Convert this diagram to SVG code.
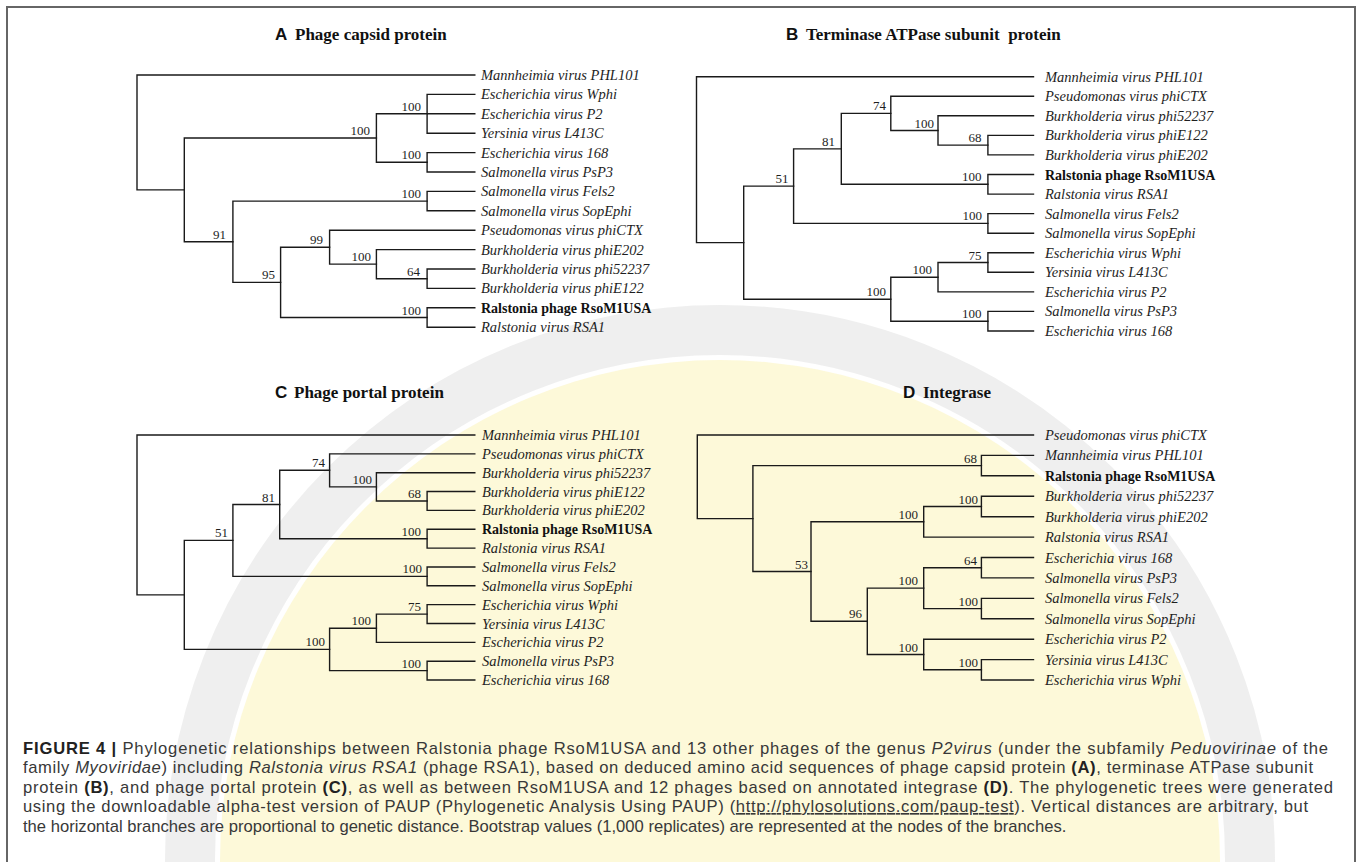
<svg xmlns="http://www.w3.org/2000/svg" width="1357" height="862" viewBox="0 0 1357 862">
<style>
.br{stroke:#1a1a1a;stroke-width:1.4;fill:none;stroke-linecap:square}
.lf{font-family:"Liberation Serif",serif;font-style:italic;font-size:14.5px;fill:#1e1e1e}
.lb{font-family:"Liberation Serif",serif;font-weight:bold;font-size:14px;fill:#111}
.bs{font-family:"Liberation Serif",serif;font-size:13px;text-anchor:end;fill:#1e1e1e}
.tl{font-family:"Liberation Sans",sans-serif;font-weight:bold;font-size:17px;fill:#111}
.tt{font-family:"Liberation Serif",serif;font-weight:bold;font-size:17px;fill:#111}
.cap{font-family:"Liberation Sans",sans-serif;font-size:16.6px;fill:#383838}
.b{font-weight:bold;fill:#222}
.i{font-style:italic}
</style>
<rect width="1357" height="862" fill="#ffffff"/>
<g id="watermark">
<circle cx="720" cy="860" r="500" fill="#fcf4b4" opacity="0.5"/>
<circle cx="720" cy="860" r="530" fill="none" stroke="#d6d6d6" stroke-width="50" opacity="0.4"/>
</g>
<path id="frame" d="M7,870 V7 H1355 V870" fill="none" stroke="#666" stroke-width="2"/>

<!-- Titles -->
<g id="title-A"><text x="275" y="40" class="tl">A</text><text x="295" y="40" class="tt">Phage capsid protein</text></g>
<g id="title-B"><text x="786" y="40" class="tl">B</text><text x="806" y="40" class="tt" xml:space="preserve">Terminase ATPase subunit  protein</text></g>
<g id="title-C"><text x="275" y="398" class="tl">C</text><text x="294" y="398" class="tt">Phage portal protein</text></g>
<g id="title-D"><text x="903" y="398" class="tl">D</text><text x="923" y="398" class="tt">Integrase</text></g>

<!-- Connectors -->
<g id="connectors" class="br">
<g id="conn-A">
<path d="M137,75 V189.9 M137,75 H474.8 M137,189.9 H184.3"/>
<path d="M184.3,138.05 V241.7 M184.3,138.05 H376.4 M184.3,241.7 H232.9"/>
<path d="M376.4,113.8 V162.3 M376.4,113.8 H427.1 M376.4,162.3 H427.1"/>
<path d="M427.1,94.4 V133.2 M427.1,94.4 H474.8 M427.1,113.8 H474.8 M427.1,133.2 H474.8"/>
<path d="M427.1,152.6 V172 M427.1,152.6 H474.8 M427.1,172 H474.8"/>
<path d="M232.9,201.1 V282.35 M232.9,201.1 H427.1 M232.9,282.35 H280.6"/>
<path d="M427.1,191.4 V210.8 M427.1,191.4 H474.8 M427.1,210.8 H474.8"/>
<path d="M280.6,247.2 V317.5 M280.6,247.2 H329.6 M280.6,317.5 H427.1"/>
<path d="M329.6,230.2 V264.15 M329.6,230.2 H474.8 M329.6,264.15 H376.4"/>
<path d="M376.4,249.6 V278.7 M376.4,249.6 H474.8 M376.4,278.7 H427.1"/>
<path d="M427.1,269 V288.4 M427.1,269 H474.8 M427.1,288.4 H474.8"/>
<path d="M427.1,307.8 V327.2 M427.1,307.8 H474.8 M427.1,327.2 H474.8"/>
</g>
<g id="conn-B">
<path d="M696.5,76.7 V242.65 M696.5,76.7 H1033.5 M696.5,242.65 H743.7"/>
<path d="M743.7,186.1 V299.2 M743.7,186.1 H793.6 M743.7,299.2 H890.8"/>
<path d="M793.6,148.85 V223.4 M793.6,148.85 H841.3 M793.6,223.4 H987.9"/>
<path d="M841.3,113.4 V184.3 M841.3,113.4 H890.8 M841.3,184.3 H987.9"/>
<path d="M890.8,96.3 V130.5 M890.8,96.3 H1033.5 M890.8,130.5 H938"/>
<path d="M938,115.8 V145.15 M938,115.8 H1033.5 M938,145.15 H987.9"/>
<path d="M987.9,135.4 V154.9 M987.9,135.4 H1033.5 M987.9,154.9 H1033.5"/>
<path d="M987.9,174.5 V194.1 M987.9,174.5 H1033.5 M987.9,194.1 H1033.5"/>
<path d="M987.9,213.6 V233.2 M987.9,213.6 H1033.5 M987.9,233.2 H1033.5"/>
<path d="M890.8,277.2 V321.2 M890.8,277.2 H938 M890.8,321.2 H987.9"/>
<path d="M938,262.5 V291.9 M938,262.5 H987.9 M938,291.9 H1033.5"/>
<path d="M987.9,252.7 V272.3 M987.9,252.7 H1033.5 M987.9,272.3 H1033.5"/>
<path d="M987.9,311.4 V331 M987.9,311.4 H1033.5 M987.9,331 H1033.5"/>
</g>
<g id="conn-C">
<path d="M137,435 V594.9 M137,435 H474.8 M137,594.9 H184.3"/>
<path d="M184.3,540.42 V649.4 M184.3,540.42 H232.9 M184.3,649.4 H329.6"/>
<path d="M232.9,504.47 V576.38 M232.9,504.47 H279.7 M232.9,576.38 H427.1"/>
<path d="M279.7,470.27 V538.68 M279.7,470.27 H329.6 M279.7,538.68 H427.1"/>
<path d="M329.6,453.85 V486.84 M329.6,453.85 H474.8 M329.6,486.84 H376.4"/>
<path d="M376.4,472.7 V500.98 M376.4,472.7 H474.8 M376.4,500.98 H427.1"/>
<path d="M427.1,491.55 V510.4 M427.1,491.55 H474.8 M427.1,510.4 H474.8"/>
<path d="M427.1,529.25 V548.1 M427.1,529.25 H474.8 M427.1,548.1 H474.8"/>
<path d="M427.1,566.95 V585.8 M427.1,566.95 H474.8 M427.1,585.8 H474.8"/>
<path d="M329.6,628.2 V670.6 M329.6,628.2 H376.4 M329.6,670.6 H427.1"/>
<path d="M376.4,614.08 V642.35 M376.4,614.08 H427.1 M376.4,642.35 H474.8"/>
<path d="M427.1,604.65 V623.5 M427.1,604.65 H474.8 M427.1,623.5 H474.8"/>
<path d="M427.1,661.2 V680.05 M427.1,661.2 H474.8 M427.1,680.05 H474.8"/>
</g>
<g id="conn-D">
<path d="M697.3,435 V518.6 M697.3,435 H1033.5 M697.3,518.6 H752.9"/>
<path d="M752.9,465.6 V571.55 M752.9,465.6 H981.4 M752.9,571.55 H811"/>
<path d="M981.4,455.4 V475.8 M981.4,455.4 H1033.5 M981.4,475.8 H1033.5"/>
<path d="M811,521.8 V621.3 M811,521.8 H923.7 M811,621.3 H867.3"/>
<path d="M923.7,506.5 V537.1 M923.7,506.5 H981.4 M923.7,537.1 H1033.5"/>
<path d="M981.4,496.3 V516.7 M981.4,496.3 H1033.5 M981.4,516.7 H1033.5"/>
<path d="M867.3,588.15 V654.5 M867.3,588.15 H923.7 M867.3,654.5 H923.7"/>
<path d="M923.7,567.7 V608.6 M923.7,567.7 H981.4 M923.7,608.6 H981.4"/>
<path d="M981.4,557.5 V577.9 M981.4,557.5 H1033.5 M981.4,577.9 H1033.5"/>
<path d="M981.4,598.4 V618.8 M981.4,598.4 H1033.5 M981.4,618.8 H1033.5"/>
<path d="M923.7,639.2 V669.8 M923.7,639.2 H1033.5 M923.7,669.8 H981.4"/>
<path d="M981.4,659.6 V680 M981.4,659.6 H1033.5 M981.4,680 H1033.5"/>
</g>
</g>

<!-- Panel A leaves -->
<g id="A-leaf-01"><text x="481" y="80" class="lf">Mannheimia virus PHL101</text></g>
<g id="A-leaf-02"><text x="481" y="99.4" class="lf">Escherichia virus Wphi</text></g>
<g id="A-leaf-03"><text x="481" y="118.8" class="lf">Escherichia virus P2</text></g>
<g id="A-leaf-04"><text x="481" y="138.2" class="lf">Yersinia virus L413C</text></g>
<g id="A-leaf-05"><text x="481" y="157.6" class="lf">Escherichia virus 168</text></g>
<g id="A-leaf-06"><text x="481" y="177" class="lf">Salmonella virus PsP3</text></g>
<g id="A-leaf-07"><text x="481" y="196.4" class="lf">Salmonella virus Fels2</text></g>
<g id="A-leaf-08"><text x="481" y="215.8" class="lf">Salmonella virus SopEphi</text></g>
<g id="A-leaf-09"><text x="481" y="235.2" class="lf">Pseudomonas virus phiCTX</text></g>
<g id="A-leaf-10"><text x="481" y="254.6" class="lf">Burkholderia virus phiE202</text></g>
<g id="A-leaf-11"><text x="481" y="274" class="lf">Burkholderia virus phi52237</text></g>
<g id="A-leaf-12"><text x="481" y="293.4" class="lf">Burkholderia virus phiE122</text></g>
<g id="A-leaf-13"><text x="481" y="312.8" class="lb">Ralstonia phage RsoM1USA</text></g>
<g id="A-leaf-14"><text x="481" y="332.2" class="lf">Ralstonia virus RSA1</text></g>
<!-- Panel A bootstrap -->
<g id="A-node-1"><text x="421" y="110.8" class="bs">100</text></g>
<g id="A-node-2"><text x="370" y="135" class="bs">100</text></g>
<g id="A-node-3"><text x="421" y="159.3" class="bs">100</text></g>
<g id="A-node-4"><text x="421" y="198.1" class="bs">100</text></g>
<g id="A-node-5"><text x="226" y="238.7" class="bs">91</text></g>
<g id="A-node-6"><text x="323" y="244.2" class="bs">99</text></g>
<g id="A-node-7"><text x="371" y="261.2" class="bs">100</text></g>
<g id="A-node-8"><text x="420" y="275.7" class="bs">64</text></g>
<g id="A-node-9"><text x="275" y="279.4" class="bs">95</text></g>
<g id="A-node-10"><text x="421" y="314.5" class="bs">100</text></g>

<!-- Panel B leaves -->
<g id="B-leaf-01"><text x="1045" y="81.7" class="lf">Mannheimia virus PHL101</text></g>
<g id="B-leaf-02"><text x="1045" y="101.3" class="lf">Pseudomonas virus phiCTX</text></g>
<g id="B-leaf-03"><text x="1045" y="120.8" class="lf">Burkholderia virus phi52237</text></g>
<g id="B-leaf-04"><text x="1045" y="140.4" class="lf">Burkholderia virus phiE122</text></g>
<g id="B-leaf-05"><text x="1045" y="159.9" class="lf">Burkholderia virus phiE202</text></g>
<g id="B-leaf-06"><text x="1045" y="179.5" class="lb">Ralstonia phage RsoM1USA</text></g>
<g id="B-leaf-07"><text x="1045" y="199.1" class="lf">Ralstonia virus RSA1</text></g>
<g id="B-leaf-08"><text x="1045" y="218.6" class="lf">Salmonella virus Fels2</text></g>
<g id="B-leaf-09"><text x="1045" y="238.2" class="lf">Salmonella virus SopEphi</text></g>
<g id="B-leaf-10"><text x="1045" y="257.7" class="lf">Escherichia virus Wphi</text></g>
<g id="B-leaf-11"><text x="1045" y="277.3" class="lf">Yersinia virus L413C</text></g>
<g id="B-leaf-12"><text x="1045" y="296.9" class="lf">Escherichia virus P2</text></g>
<g id="B-leaf-13"><text x="1045" y="316.4" class="lf">Salmonella virus PsP3</text></g>
<g id="B-leaf-14"><text x="1045" y="336" class="lf">Escherichia virus 168</text></g>
<!-- Panel B bootstrap -->
<g id="B-node-1"><text x="886" y="110.4" class="bs">74</text></g>
<g id="B-node-2"><text x="934" y="127.5" class="bs">100</text></g>
<g id="B-node-3"><text x="981.5" y="142.2" class="bs">68</text></g>
<g id="B-node-4"><text x="835" y="145.9" class="bs">81</text></g>
<g id="B-node-5"><text x="981.5" y="181.3" class="bs">100</text></g>
<g id="B-node-6"><text x="788.5" y="183.1" class="bs">51</text></g>
<g id="B-node-7"><text x="982" y="220.4" class="bs">100</text></g>
<g id="B-node-8"><text x="981.5" y="259.5" class="bs">75</text></g>
<g id="B-node-9"><text x="932" y="274.2" class="bs">100</text></g>
<g id="B-node-10"><text x="886" y="296.2" class="bs">100</text></g>
<g id="B-node-11"><text x="981.5" y="318.2" class="bs">100</text></g>

<!-- Panel C leaves -->
<g id="C-leaf-01"><text x="482" y="440" class="lf">Mannheimia virus PHL101</text></g>
<g id="C-leaf-02"><text x="482" y="458.9" class="lf">Pseudomonas virus phiCTX</text></g>
<g id="C-leaf-03"><text x="482" y="477.7" class="lf">Burkholderia virus phi52237</text></g>
<g id="C-leaf-04"><text x="482" y="496.6" class="lf">Burkholderia virus phiE122</text></g>
<g id="C-leaf-05"><text x="482" y="515.4" class="lf">Burkholderia virus phiE202</text></g>
<g id="C-leaf-06"><text x="482" y="534.3" class="lb">Ralstonia phage RsoM1USA</text></g>
<g id="C-leaf-07"><text x="482" y="553.1" class="lf">Ralstonia virus RSA1</text></g>
<g id="C-leaf-08"><text x="482" y="572" class="lf">Salmonella virus Fels2</text></g>
<g id="C-leaf-09"><text x="482" y="590.8" class="lf">Salmonella virus SopEphi</text></g>
<g id="C-leaf-10"><text x="482" y="609.7" class="lf">Escherichia virus Wphi</text></g>
<g id="C-leaf-11"><text x="482" y="628.5" class="lf">Yersinia virus L413C</text></g>
<g id="C-leaf-12"><text x="482" y="647.4" class="lf">Escherichia virus P2</text></g>
<g id="C-leaf-13"><text x="482" y="666.2" class="lf">Salmonella virus PsP3</text></g>
<g id="C-leaf-14"><text x="482" y="685.1" class="lf">Escherichia virus 168</text></g>
<!-- Panel C bootstrap -->
<g id="C-node-1"><text x="325" y="467.3" class="bs">74</text></g>
<g id="C-node-2"><text x="372" y="483.8" class="bs">100</text></g>
<g id="C-node-3"><text x="421" y="498" class="bs">68</text></g>
<g id="C-node-4"><text x="275" y="501.5" class="bs">81</text></g>
<g id="C-node-5"><text x="421" y="535.7" class="bs">100</text></g>
<g id="C-node-6"><text x="228" y="537.4" class="bs">51</text></g>
<g id="C-node-7"><text x="422" y="573.4" class="bs">100</text></g>
<g id="C-node-8"><text x="421" y="611.1" class="bs">75</text></g>
<g id="C-node-9"><text x="371" y="625.2" class="bs">100</text></g>
<g id="C-node-10"><text x="325" y="646.4" class="bs">100</text></g>
<g id="C-node-11"><text x="421" y="667.6" class="bs">100</text></g>

<!-- Panel D leaves -->
<g id="D-leaf-01"><text x="1045" y="440" class="lf">Pseudomonas virus phiCTX</text></g>
<g id="D-leaf-02"><text x="1045" y="460.4" class="lf">Mannheimia virus PHL101</text></g>
<g id="D-leaf-03"><text x="1045" y="480.8" class="lb">Ralstonia phage RsoM1USA</text></g>
<g id="D-leaf-04"><text x="1045" y="501.3" class="lf">Burkholderia virus phi52237</text></g>
<g id="D-leaf-05"><text x="1045" y="521.7" class="lf">Burkholderia virus phiE202</text></g>
<g id="D-leaf-06"><text x="1045" y="542.1" class="lf">Ralstonia virus RSA1</text></g>
<g id="D-leaf-07"><text x="1045" y="562.5" class="lf">Escherichia virus 168</text></g>
<g id="D-leaf-08"><text x="1045" y="582.9" class="lf">Salmonella virus PsP3</text></g>
<g id="D-leaf-09"><text x="1045" y="603.4" class="lf">Salmonella virus Fels2</text></g>
<g id="D-leaf-10"><text x="1045" y="623.8" class="lf">Salmonella virus SopEphi</text></g>
<g id="D-leaf-11"><text x="1045" y="644.2" class="lf">Escherichia virus P2</text></g>
<g id="D-leaf-12"><text x="1045" y="664.6" class="lf">Yersinia virus L413C</text></g>
<g id="D-leaf-13"><text x="1045" y="685" class="lf">Escherichia virus Wphi</text></g>
<!-- Panel D bootstrap -->
<g id="D-node-1"><text x="977" y="462.6" class="bs">68</text></g>
<g id="D-node-2"><text x="978" y="503.5" class="bs">100</text></g>
<g id="D-node-3"><text x="918" y="518.8" class="bs">100</text></g>
<g id="D-node-4"><text x="977" y="564.7" class="bs">64</text></g>
<g id="D-node-5"><text x="808" y="568.6" class="bs">53</text></g>
<g id="D-node-6"><text x="918" y="585.2" class="bs">100</text></g>
<g id="D-node-7"><text x="978" y="605.6" class="bs">100</text></g>
<g id="D-node-8"><text x="862" y="618.3" class="bs">96</text></g>
<g id="D-node-9"><text x="918" y="651.5" class="bs">100</text></g>
<g id="D-node-10"><text x="978" y="666.8" class="bs">100</text></g>

<!-- Caption -->
<g id="caption" class="cap">
<text x="23" y="753.5" textLength="1305" lengthAdjust="spacing"><tspan class="b">FIGURE 4 | </tspan>Phylogenetic relationships between Ralstonia phage RsoM1USA and 13 other phages of the genus <tspan class="i">P2virus</tspan> (under the subfamily <tspan class="i">Peduovirinae</tspan> of the</text>
<text x="23" y="773" textLength="1290" lengthAdjust="spacing">family <tspan class="i">Myoviridae</tspan>) including <tspan class="i">Ralstonia virus RSA1</tspan> (phage RSA1), based on deduced amino acid sequences of phage capsid protein <tspan class="b">(A)</tspan>, terminase ATPase subunit</text>
<text x="23" y="792.5" textLength="1310" lengthAdjust="spacing">protein <tspan class="b">(B)</tspan>, and phage portal protein <tspan class="b">(C)</tspan>, as well as between RsoM1USA and 12 phages based on annotated integrase <tspan class="b">(D)</tspan>. The phylogenetic trees were generated</text>
<text x="23" y="812" textLength="1285" lengthAdjust="spacing">using the downloadable alpha-test version of PAUP (Phylogenetic Analysis Using PAUP) (<tspan text-decoration="underline">http://phylosolutions.com/paup-test</tspan>). Vertical distances are arbitrary, but</text>
<text x="23" y="831.5">the horizontal branches are proportional to genetic distance. Bootstrap values (1,000 replicates) are represented at the nodes of the branches.</text>
</g>
</svg>
